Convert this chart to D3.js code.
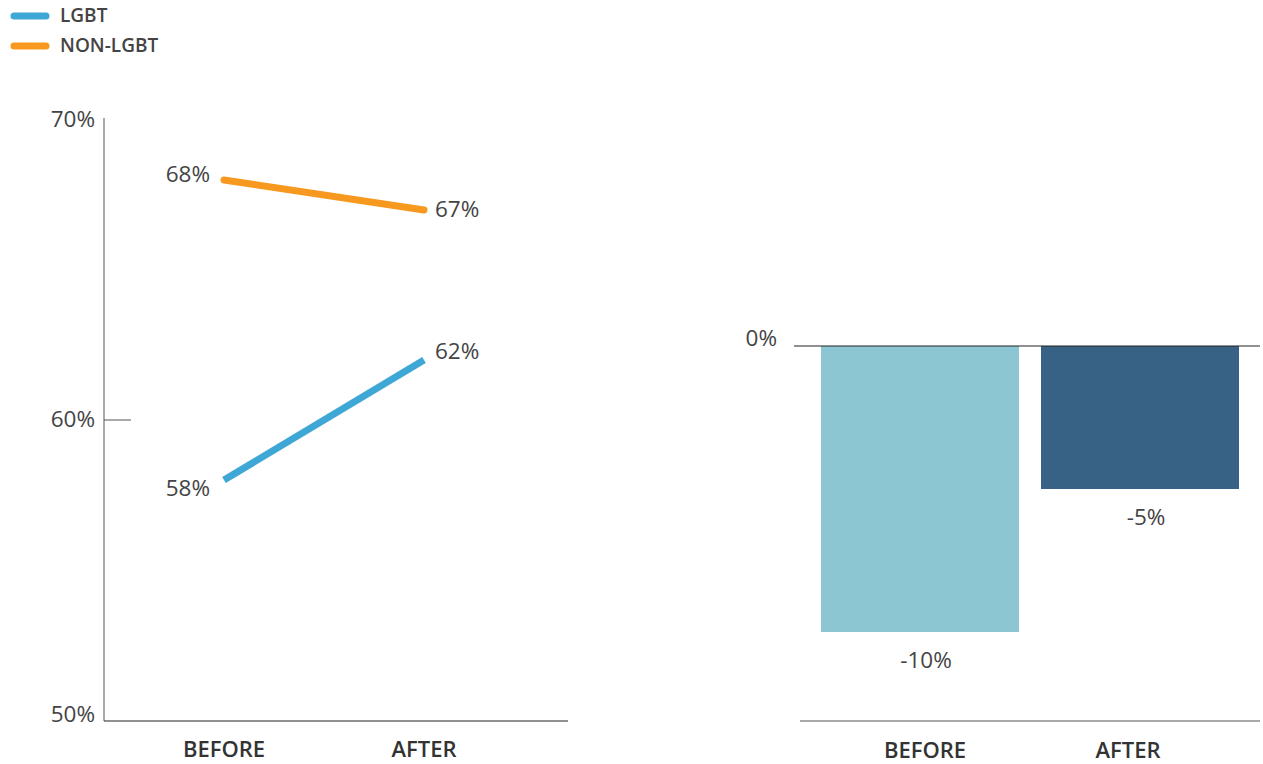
<!DOCTYPE html>
<html>
<head>
<meta charset="utf-8">
<script src="https://cdn.jsdelivr.net/npm/d3@7"></script>
<style>
  body { margin: 0; background: #fff; }
  svg text { font-family: "Open Sans", "Noto Sans", sans-serif; fill: #444; }
</style>
</head>
<body>
<div class="svgContainer"></div>
<script>
// data
const periods = ['BEFORE', 'AFTER'];
const lgbtRate = [58, 62];
const nonLgbtRate = [68, 67];
const gapChange = [-10, -5];
const rateTicks = [50, 60, 70];
const seriesNames = ['LGBT', 'NON-LGBT'];

const width = 1263;
const height = 764;
const lineColor = { 'LGBT': '#3fa7d6', 'NON-LGBT': '#f7991f' };
const barColor = ['#8cc6d3', '#386285'];

const svg = d3.select('.svgContainer').append('svg')
  .attr('width', width)
  .attr('height', height);

// legend
const legend = svg.append('g').attr('class', 'legend');
seriesNames.forEach((name, i) => {
  const ly = 16 + i * 30;
  legend.append('line')
    .attr('x1', 14).attr('x2', 46)
    .attr('y1', ly).attr('y2', ly)
    .attr('stroke', lineColor[name])
    .attr('stroke-width', 7)
    .attr('stroke-linecap', 'round');
  legend.append('text')
    .attr('x', 60).attr('y', ly - 1)
    .attr('dy', '0.35em')
    .style('font-size', '19px')
    .style('font-weight', 600)
    .text(name);
});

// left chart: slope lines
const axisX = 104;
const scaleX = d3.scalePoint().domain(periods).range([224, 424]);
const scaleY = d3.scaleLinear().domain([50, 70]).range([720, 120]);

const left = svg.append('g').attr('class', 'left');

left.append('line')
  .attr('x1', axisX).attr('x2', axisX)
  .attr('y1', scaleY(70) - 2).attr('y2', scaleY(50) + 1)
  .attr('stroke', '#555').attr('stroke-width', 1);
left.append('line')
  .attr('x1', axisX).attr('x2', 568)
  .attr('y1', scaleY(50) + 1).attr('y2', scaleY(50) + 1)
  .attr('stroke', '#222').attr('stroke-width', 1.2);
left.append('line')
  .attr('x1', axisX).attr('x2', axisX + 27)
  .attr('y1', scaleY(60)).attr('y2', scaleY(60))
  .attr('stroke', '#555').attr('stroke-width', 1);

left.selectAll('text.tick')
  .data(rateTicks)
  .enter().append('text')
  .attr('class', 'tick')
  .attr('x', axisX - 9)
  .attr('y', d => scaleY(d) + (d === 50 ? -6 : -1))
  .attr('dy', '0.35em')
  .attr('text-anchor', 'end')
  .style('font-size', '22.5px')
  .text(d => d + '%');

const line = d3.line()
  .x((d, i) => scaleX(periods[i]))
  .y(d => scaleY(d));

left.append('path')
  .datum(nonLgbtRate)
  .attr('d', line)
  .attr('fill', 'none')
  .attr('stroke', lineColor['NON-LGBT'])
  .attr('stroke-width', 7)
  .attr('stroke-linecap', 'round');

left.append('path')
  .datum(lgbtRate)
  .attr('d', line)
  .attr('fill', 'none')
  .attr('stroke', lineColor['LGBT'])
  .attr('stroke-width', 7);

const pointLabels = [
  { v: nonLgbtRate[0], i: 0, dy: -6 },
  { v: nonLgbtRate[1], i: 1, dy: -1 },
  { v: lgbtRate[0], i: 0, dy: 8 },
  { v: lgbtRate[1], i: 1, dy: -9 }
];
left.selectAll('text.value')
  .data(pointLabels)
  .enter().append('text')
  .attr('class', 'value')
  .attr('x', d => scaleX(periods[d.i]) + (d.i === 0 ? -14 : 11))
  .attr('y', d => scaleY(d.v) + d.dy)
  .attr('dy', '0.35em')
  .attr('text-anchor', d => d.i === 0 ? 'end' : 'start')
  .style('font-size', '22.5px')
  .text(d => d.v + '%');

left.selectAll('text.cat')
  .data(periods)
  .enter().append('text')
  .attr('class', 'cat')
  .attr('x', d => scaleX(d))
  .attr('y', 749)
  .attr('dy', '0.35em')
  .attr('text-anchor', 'middle')
  .style('font-size', '22px')
  .style('font-weight', 600)
  .style('fill', '#333')
  .text(d => d);

// right chart: bars
const barX = d3.scaleBand().domain(periods).range([799, 1261]).padding(0.1);
const barY = d3.scaleLinear().domain([0, -10]).range([346, 632]);
const catX = d3.scalePoint().domain(periods).range([925, 1128]);

const right = svg.append('g').attr('class', 'right');

right.selectAll('rect.bar')
  .data(gapChange)
  .enter().append('rect')
  .attr('class', 'bar')
  .attr('x', (d, i) => barX(periods[i]))
  .attr('y', barY(0))
  .attr('width', barX.bandwidth())
  .attr('height', d => barY(d) - barY(0))
  .attr('fill', (d, i) => barColor[i]);

right.append('line')
  .attr('x1', 794).attr('x2', 1260)
  .attr('y1', barY(0)).attr('y2', barY(0))
  .attr('stroke', '#222').attr('stroke-width', 1.2);
right.append('line')
  .attr('x1', 800).attr('x2', 1260)
  .attr('y1', 721).attr('y2', 721)
  .attr('stroke', '#555').attr('stroke-width', 1.2);

right.append('text')
  .attr('x', 777)
  .attr('y', barY(0) - 8)
  .attr('dy', '0.35em')
  .attr('text-anchor', 'end')
  .style('font-size', '22.5px')
  .text('0%');

right.selectAll('text.value')
  .data(gapChange)
  .enter().append('text')
  .attr('class', 'value')
  .attr('x', (d, i) => barX(periods[i]) + barX.bandwidth() / 2 + 6)
  .attr('y', d => barY(d) + 28)
  .attr('dy', '0.35em')
  .attr('text-anchor', 'middle')
  .style('font-size', '22.5px')
  .text(d => d + '%');

right.selectAll('text.cat')
  .data(periods)
  .enter().append('text')
  .attr('class', 'cat')
  .attr('x', d => catX(d))
  .attr('y', 750)
  .attr('dy', '0.35em')
  .attr('text-anchor', 'middle')
  .style('font-size', '22px')
  .style('font-weight', 600)
  .style('fill', '#333')
  .text(d => d);
</script>
</body>
</html>
